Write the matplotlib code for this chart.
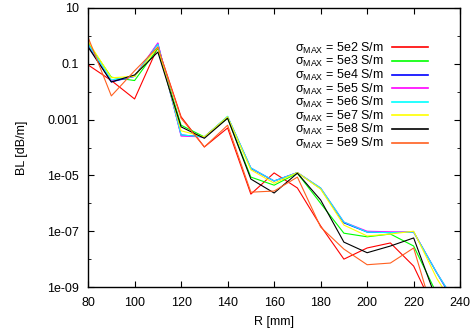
import numpy as np
import matplotlib
matplotlib.use("Agg")
import matplotlib.pyplot as plt
from matplotlib.ticker import FixedLocator, NullFormatter

plt.rcParams['font.family'] = ['Liberation Sans', 'DejaVu Sans']
plt.rcParams['mathtext.fontset'] = 'custom'
plt.rcParams['mathtext.rm'] = 'Liberation Sans'
plt.rcParams['mathtext.it'] = 'Liberation Sans'

# R in mm
r_mm = [80, 90, 100, 110, 120, 130, 140, 150, 160, 170, 180, 190, 200, 210, 220, 230, 240]

# log10 of BL [dB/m]
log_bl_5e2 = [-1.04, -1.6, -2.26, -0.4, -2.9, -3.98, -3.3, -5.67, -4.91, -5.45, -6.81, -8.0, -7.6, -7.42, -8.25, -10.0, -12.0]
log_bl_5e3 = [-0.25, -1.48, -1.6, -0.45, -3.2, -3.62, -2.95, -5.06, -5.35, -4.92, -6.0, -7.07, -7.2, -7.1, -7.53, -9.25, -11.0]
log_bl_5e4 = [-0.35, -1.65, -1.45, -0.28, -3.55, -3.62, -2.9, -4.75, -5.2, -4.9, -5.47, -6.7, -7.03, -7.05, -7.03, -8.5, -9.9]
log_bl_5e5 = [-0.3, -1.6, -1.45, -0.25, -3.59, -3.62, -2.9, -4.73, -5.2, -4.9, -5.45, -6.67, -7.0, -7.02, -7.03, -8.5, -9.8]
log_bl_5e6 = [-0.3, -1.58, -1.45, -0.3, -3.55, -3.62, -2.88, -4.73, -5.2, -4.9, -5.45, -6.67, -7.03, -7.05, -7.03, -8.5, -9.8]
log_bl_5e7 = [-0.2, -1.5, -1.45, -0.4, -3.4, -3.62, -2.9, -4.8, -5.28, -4.9, -5.49, -6.78, -7.17, -7.1, -7.0, -8.7, -10.0]
log_bl_5e8 = [-0.4, -1.65, -1.4, -0.58, -3.26, -3.67, -2.95, -5.13, -5.63, -4.92, -5.88, -7.39, -7.77, -7.53, -7.24, -9.5, -11.5]
log_bl_5e9 = [-0.05, -2.15, -1.25, -0.4, -2.95, -3.98, -3.2, -5.6, -5.56, -5.06, -6.85, -7.64, -8.2, -8.14, -7.6, -10.4, -12.0]

series = [
    ("5e2", log_bl_5e2, "#ff0000"),
    ("5e3", log_bl_5e3, "#00ff00"),
    ("5e4", log_bl_5e4, "#0000ff"),
    ("5e5", log_bl_5e5, "#ff00ff"),
    ("5e6", log_bl_5e6, "#00ffff"),
    ("5e7", log_bl_5e7, "#ffff00"),
    ("5e8", log_bl_5e8, "#000000"),
    ("5e9", log_bl_5e9, "#ff6020"),
]

fig = plt.figure(figsize=(4.71, 3.33), dpi=100)
ax = fig.add_axes([0.187, 0.138, 0.79, 0.838])

for name, vals, col in series:
    ax.plot(r_mm, 10.0 ** np.array(vals), color=col, lw=0.8,
            label=r"$\sigma_{\mathrm{MAX}}$ = " + name + " S/m")

ax.set_yscale("log")
ax.set_xlim(80, 240)
ax.set_ylim(1e-9, 10)
ax.set_xticks(range(80, 241, 20))
ax.yaxis.set_major_locator(FixedLocator([1e1, 1e-1, 1e-3, 1e-5, 1e-7, 1e-9]))
ax.set_yticklabels(["10", "0.1", "0.001", "1e-05", "1e-07", "1e-09"])
ax.yaxis.set_minor_locator(FixedLocator([1, 1e-2, 1e-4, 1e-6, 1e-8]))
ax.yaxis.set_minor_formatter(NullFormatter())
ax.tick_params(which="both", direction="in", top=True, right=True, labelsize=9)
ax.tick_params(which="major", length=4)
ax.tick_params(which="minor", length=2.5)
ax.tick_params(axis="x", pad=7)
ax.tick_params(axis="y", pad=6.5)
for sp in ax.spines.values():
    sp.set_linewidth(1.0)

ax.set_xlabel("R [mm]", fontsize=9, labelpad=5)
ax.set_ylabel("BL [dB/m]", fontsize=9, labelpad=14)

leg = ax.legend(loc="upper right", bbox_to_anchor=(0.93, 0.905), frameon=False,
                markerfirst=False, fontsize=9, handlelength=2.9, handletextpad=0.6,
                labelspacing=-0.12, borderpad=0)
for h in leg.get_lines():
    h.set_linewidth(1.2)

plt.savefig("out.png", dpi=100)
